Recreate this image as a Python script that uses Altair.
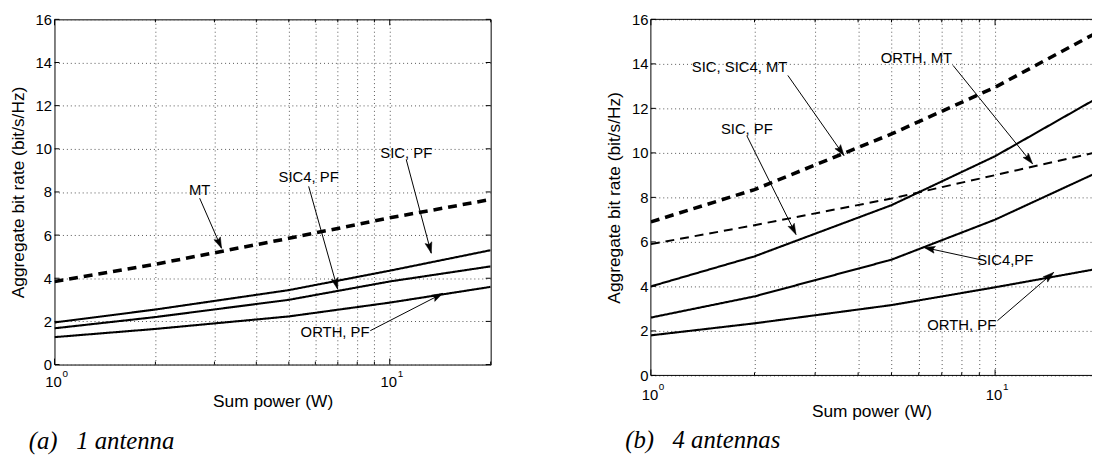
import math
import altair as alt
import pandas as pd

# ---------------- data ----------------
power = [1, 2, 5, 10, 20]

# (a) 1 antenna
a_mt = [3.85, 4.65, 5.85, 6.8, 7.65]
a_sic_pf = [1.95, 2.55, 3.45, 4.35, 5.3]
a_sic4_pf = [1.68, 2.2, 3.0, 3.85, 4.55]
a_orth_pf = [1.27, 1.65, 2.23, 2.87, 3.6]

# (b) 4 antennas
b_sic_mt = [6.9, 8.35, 10.85, 12.95, 15.45]
b_orth_mt = [5.9, 6.75, 7.95, 9.0, 10.05]
b_sic_pf = [4.0, 5.35, 7.65, 9.85, 12.5]
b_sic4_pf = [2.6, 3.55, 5.2, 7.0, 9.15]
b_orth_pf = [1.8, 2.34, 3.16, 3.96, 4.8]

# annotations (a)
a_labels = ["MT", "SIC4, PF", "SIC, PF", "ORTH, PF"]
a_text_x = [2.71, 5.73, 11.2, 6.87]
a_text_y = [8.07, 8.67, 9.82, 1.5]
a_from_x = [2.71, 5.73, 11.2, 8.75]
a_from_y = [7.71, 8.26, 9.5, 1.57]
a_to_x = [3.15, 6.99, 13.3, 14.4]
a_to_y = [5.39, 3.5, 5.16, 3.3]

# annotations (b)
b_labels = ["SIC, SIC4, MT", "ORTH, MT", "SIC, PF", "SIC4,PF", "ORTH, PF"]
b_text_x = [1.81, 5.91, 1.9, 10.7, 8.0]
b_text_y = [13.84, 14.28, 11.07, 5.19, 2.27]
b_from_x = [2.5, 7.55, 1.9, 9.13, 10.16]
b_from_y = [13.48, 13.93, 10.77, 5.19, 2.46]
b_to_x = [3.64, 12.85, 2.64, 6.22, 14.8]
b_to_y = [9.88, 9.51, 6.33, 5.75, 4.63]

y_ticks = [0, 2, 4, 6, 8, 10, 12, 14, 16]
x_grid = [2, 3, 4, 5, 6, 7, 8, 9, 10]
x_major = [1, 10]
x_minor = [2, 3, 4, 5, 6, 7, 8, 9, 20]
x_exp = ["0", "1"]

FONT = "Liberation Sans"
YMAX = 16

ARROW = "M0,0L0.7,2.2L0,1.8L-0.7,2.2Z"

STYLES = {"solid": ([1, 0], 2.1), "dash": ([9, 6], 2.0), "thick": ([9, 6], 3.6)}


def panel(series, labels, tx, ty, fx, fy, ax, ay, W, H, xmax, caption,
          cap_dy, lab_dy, right_border):
    xs = alt.Scale(type="log", domain=[1, xmax], nice=False)
    ys = alt.Scale(domain=[0, YMAX], nice=False)
    xa = alt.Axis(values=[v for v in x_grid if v < xmax], labels=False, ticks=False,
                  domain=False, grid=True, title="Sum power (W)", titlePadding=28,
                  titleFontSize=17.5)
    ya = alt.Axis(values=y_ticks, ticks=False, domain=False, grid=True,
                  labelPadding=3, labelFontSize=15,
                  title="Aggregate bit rate (bit/s/Hz)", titlePadding=8,
                  titleFontSize=17.5)

    def X(f):
        return alt.X(f, scale=xs, axis=xa, title="Sum power (W)")

    def Y(f):
        return alt.Y(f, scale=ys, axis=ya, title="Aggregate bit rate (bit/s/Hz)")

    def px(v):
        return math.log10(v) / math.log10(xmax) * W

    def py(v):
        return H * (1 - v / YMAX)

    layers = []
    for name, style, vals in series:
        dash, sw = STYLES[style]
        df = pd.DataFrame({"power": power, "rate": vals})
        layers.append(alt.Chart(df).mark_line(color="black", strokeCap="butt", clip=True,
                                              strokeDash=dash, strokeWidth=sw).encode(
            x=X("power:Q"), y=Y("rate:Q")))

    angles = []
    for x0, y0, x1, y1 in zip(fx, fy, ax, ay):
        dx = px(x1) - px(x0)
        dy = py(y1) - py(y0)
        angles.append(math.degrees(math.atan2(dx, -dy)) % 360)

    ann = pd.DataFrame({"label": labels, "tx": tx, "ty": ty, "fx": fx, "fy": fy,
                        "ax": ax, "ay": ay, "ang": angles})

    layers.append(alt.Chart(ann).mark_rule(color="black", strokeWidth=1).encode(
        x=X("fx:Q"), y=Y("fy:Q"), x2="ax:Q", y2="ay:Q"))

    layers.append(alt.Chart(ann).mark_point(shape=ARROW, filled=True, fill="black",
                                            stroke="black", strokeWidth=0.5,
                                            opacity=1, size=100).encode(
        x=X("ax:Q"), y=Y("ay:Q"), angle=alt.Angle("ang:Q", scale=None)))

    layers.append(alt.Chart(ann).mark_text(font=FONT, fontSize=15, color="black",
                                           baseline="middle").encode(
        x=X("tx:Q"), y=Y("ty:Q"), text="label:N"))

    tdf = pd.DataFrame({"v": y_ticks})
    layers.append(alt.Chart(tdf).mark_rule(color="black", strokeWidth=1).encode(
        y=Y("v:Q"), x=alt.value(0), x2=alt.value(5)))
    if right_border:
        layers.append(alt.Chart(tdf).mark_rule(color="black", strokeWidth=1).encode(
            y=Y("v:Q"), x=alt.value(W - 5), x2=alt.value(W)))
    for vals, ln in ((x_major, 6), ([v for v in x_minor if v <= xmax], 3)):
        d = pd.DataFrame({"v": vals})
        layers.append(alt.Chart(d).mark_rule(color="black", strokeWidth=1).encode(
            x=X("v:Q"), y=alt.value(H), y2=alt.value(H - ln)))
        layers.append(alt.Chart(d).mark_rule(color="black", strokeWidth=1).encode(
            x=X("v:Q"), y=alt.value(0), y2=alt.value(ln)))

    if not right_border:
        bd = pd.DataFrame({"v": [0]})
        layers.append(alt.Chart(bd).mark_rule(color="black", strokeWidth=1).encode(
            x=alt.value(0), x2=alt.value(W), y=alt.value(0)))
        layers.append(alt.Chart(bd).mark_rule(color="black", strokeWidth=1).encode(
            x=alt.value(0), x2=alt.value(W), y=alt.value(H)))
        layers.append(alt.Chart(bd).mark_rule(color="black", strokeWidth=1).encode(
            x=alt.value(0), y=alt.value(0), y2=alt.value(H)))

    ldf = pd.DataFrame({"v": x_major, "base": ["10", "10"], "e": x_exp})
    layers.append(alt.Chart(ldf).mark_text(font=FONT, fontSize=15, color="black",
                                           baseline="middle", align="center", dx=-1).encode(
        x=X("v:Q"), y=alt.value(H + lab_dy), text="base:N"))
    layers.append(alt.Chart(ldf).mark_text(font=FONT, fontSize=10, color="black",
                                           baseline="middle", align="left", dx=8).encode(
        x=X("v:Q"), y=alt.value(H + lab_dy - 8), text="e:N"))

    layers.append(alt.Chart(pd.DataFrame({"c": [caption]})).mark_text(
        font="Liberation Serif", fontStyle="italic", fontSize=25, color="black",
        align="left", baseline="middle").encode(
        x=alt.value(-26), y=alt.value(H + cap_dy), text="c:N"))

    ch = alt.layer(*layers).properties(width=W, height=H)
    if not right_border:
        ch = ch.properties(view=alt.ViewBackground(stroke="transparent"))
    return ch


left = panel(
    [("MT", "thick", a_mt), ("SIC, PF", "solid", a_sic_pf),
     ("SIC4, PF", "solid", a_sic4_pf), ("ORTH, PF", "solid", a_orth_pf)],
    a_labels, a_text_x, a_text_y, a_from_x, a_from_y, a_to_x, a_to_y,
    441, 349, 20, "(a)\u00a0\u00a0 1 antenna", 77, 18, True)

RW = 446
right = panel(
    [("SIC, SIC4, MT", "thick", b_sic_mt), ("ORTH, MT", "dash", b_orth_mt),
     ("SIC, PF", "solid", b_sic_pf), ("SIC4,PF", "solid", b_sic4_pf),
     ("ORTH, PF", "solid", b_orth_pf)],
    b_labels, b_text_x, b_text_y, b_from_x, b_from_y, b_to_x, b_to_y,
    RW, 360, 10 ** (RW / 348.0), "(b)\u00a0\u00a0 4 antennas", 65, 20, False)

chart = alt.hconcat(left, right, spacing=114).properties(
    padding={"left": 0, "top": 1, "right": 0, "bottom": 0},
    background="white",
).configure_view(stroke="black", strokeWidth=1).configure_axis(
    labelFont=FONT, labelFontSize=15, labelColor="black",
    titleFont=FONT, titleFontSize=17.5, titleFontWeight="normal", titleColor="black",
    gridColor="#555", gridDash=[1, 3], gridWidth=1
)

chart.save("out.html", embed_options={"renderer": "svg", "actions": False})
